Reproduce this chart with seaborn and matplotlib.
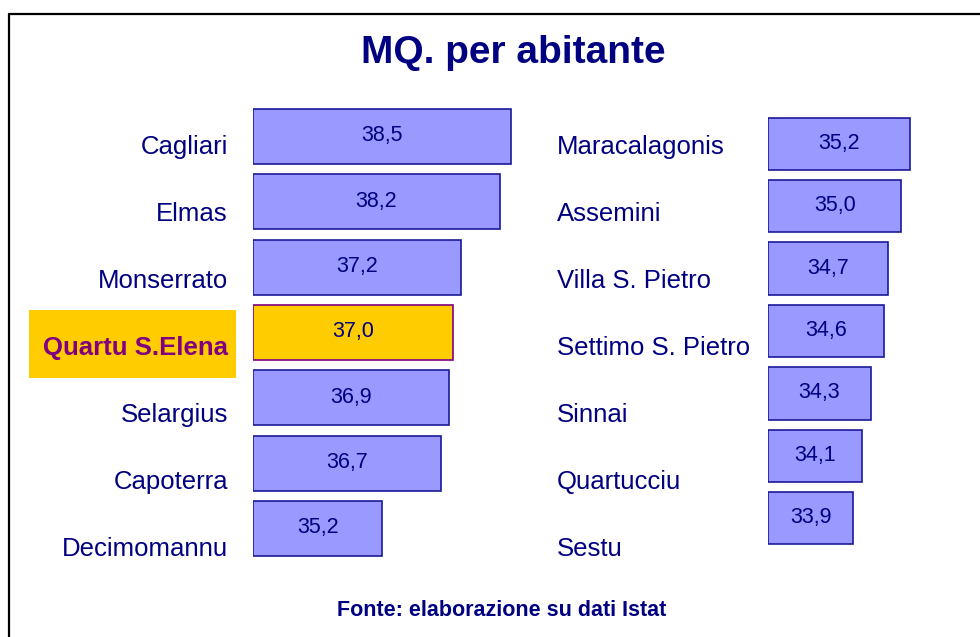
import matplotlib
matplotlib.use("Agg")
import matplotlib.pyplot as plt
from matplotlib.patches import Rectangle
from matplotlib.lines import Line2D
import seaborn as sns
import pandas as pd

# ---- data ----
left_cities = ["Cagliari", "Elmas", "Monserrato", "Quartu S.Elena", "Selargius", "Capoterra", "Decimomannu"]
left_values = [38.5, 38.2, 37.2, 37.0, 36.9, 36.7, 35.2]
right_cities = ["Maracalagonis", "Assemini", "Villa S. Pietro", "Settimo S. Pietro", "Sinnai", "Quartucciu", "Sestu"]
right_values = [35.2, 35.0, 34.7, 34.6, 34.3, 34.1, 33.9]
highlight = "Quartu S.Elena"
title = "MQ. per abitante"
source = "Fonte: elaborazione su dati Istat"

sns.set_style("white")
plt.rcParams["font.family"] = ["Liberation Sans", "DejaVu Sans"]

NAVY = "#000080"
BAR = "#9999FF"
EDGE = "#1A1A99"
GOLD = "#FFCC00"
PURPLE = "#800080"

W, H = 980, 637
fig = plt.figure(figsize=(W / 100, H / 100), dpi=100)
fig.patch.set_facecolor("white")


def rect(x0, y0, x1, y1):
    return [x0 / W, 1 - y1 / H, (x1 - x0) / W, (y1 - y0) / H]


def draw_panel(cities, values, bar_box, xlim, label_box, side):
    df = pd.DataFrame({"city": cities, "val": values})
    pal = {c: (GOLD if c == highlight else BAR) for c in cities}
    ax = fig.add_axes(rect(*bar_box))
    sns.barplot(data=df, x="val", y="city", hue="city", palette=pal, legend=False,
                orient="h", width=0.84, saturation=1, ax=ax, linewidth=1.2)
    # bars start at the axis minimum (value axis does not start at zero)
    for p, c in zip(sorted(ax.patches, key=lambda p: p.get_y()), cities):
        p.set_edgecolor(PURPLE if c == highlight else EDGE)
        w = p.get_width()
        p.set_x(xlim[0])
        p.set_width(w - xlim[0])
    ax.set_xlim(xlim[0] - 0.02, xlim[1])
    ax.set_ylim(len(cities) - 0.5, -0.5)
    for i, v in enumerate(values):
        ax.text((xlim[0] + v) / 2, i - 0.01, f"{v:.1f}".replace(".", ","),
                ha="center", va="center", color=NAVY, fontsize=15.5)
    ax.set_axis_off()

    # category labels on a separate invisible axis
    lax = fig.add_axes(rect(*label_box))
    lax.set_ylim(len(cities) - 0.5, -0.5)
    lax.set_yticks(range(len(cities)))
    lax.set_yticklabels(cities)
    lax.set_xticks([])
    if side == "right":
        lax.yaxis.tick_right()
    lax.tick_params(axis="y", length=0, pad=0, labelsize=18.5, labelcolor=NAVY)
    for s in lax.spines.values():
        s.set_visible(False)
    lax.patch.set_alpha(0)
    for t in lax.get_yticklabels():
        if t.get_text() == highlight:
            t.set_color(PURPLE)
            t.set_fontweight("bold")
    return ax


# highlight box behind the Quartu label
fig.patches.append(Rectangle((29 / W, 1 - 378 / H), (236 - 29) / W, (378 - 310) / H,
                             transform=fig.transFigure, facecolor=GOLD, edgecolor="none", zorder=-1))

draw_panel(left_cities, left_values, (252.5, 103.85, 531, 561.15), (31.9, 39.0),
           (228, 110.5, 230, 579.5), "left")
draw_panel(right_cities, right_values, (767.5, 112.8, 945, 549.2), (31.96, 36.0),
           (555, 110.5, 557, 579.5), "right")

fig.text(513 / W, 1 - 53 / H, title, ha="center", va="center", fontsize=28,
         fontweight="bold", color=NAVY)
fig.text(502 / W, 1 - 610 / H, source, ha="center", va="center", fontsize=15.5,
         fontweight="bold", color=NAVY)

# frame lines (top and left)
fig.add_artist(Line2D([8.5 / W, 1], [1 - 14 / H, 1 - 14 / H], transform=fig.transFigure,
                      color="black", linewidth=1.6))
fig.add_artist(Line2D([8.5 / W, 8.5 / W], [0, 1 - 14 / H], transform=fig.transFigure,
                      color="black", linewidth=1.6))

fig.savefig("out.png", dpi=100, facecolor="white")
